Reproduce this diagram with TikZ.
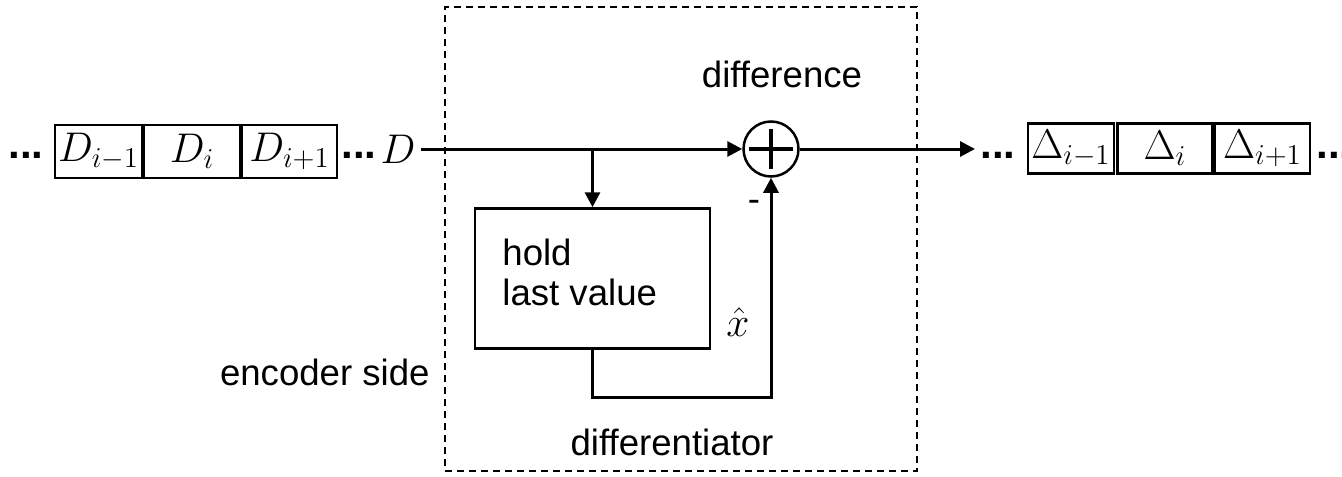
\documentclass[tikz,border=0pt]{standalone}
\usepackage[no-math]{fontspec}
\setmainfont{Liberation Sans}
\usetikzlibrary{arrows.meta}
% larger sub/superscripts for the sequence labels
\DeclareMathSizes{20.5}{20.5}{15.5}{12}

\tikzset{
  txt/.style={inner sep=0pt, font=\fontsize{18.3}{20}\selectfont},
  mth/.style={inner sep=0pt, font=\fontsize{20.5}{24}\selectfont},
  dots/.style={inner sep=0pt, anchor=base, font=\fontsize{21}{24}\selectfont\bfseries},
  cell/.style={draw, line width=1.25pt, inner sep=0pt, minimum height=26.5pt,
    font=\fontsize{20.5}{24}\selectfont},
  wire/.style={line width=1.5pt},
  arr/.style={wire, -{Triangle[length=7.5pt,width=7.5pt]}},
  sumnode/.style={circle, draw, line width=1.25pt, minimum size=27.5pt, inner sep=0pt,
    path picture={
      \draw[line width=2pt]
        ([xshift=-11pt]path picture bounding box.center) -- ([xshift=11pt]path picture bounding box.center)
        ([yshift=-10pt]path picture bounding box.center) -- ([yshift=10pt]path picture bounding box.center);
    }},
  blockbox/.style={draw, line width=1.25pt, inner sep=0pt},
  frame/.style={draw, line width=1pt, dash pattern=on 3.5pt off 2.5pt, inner sep=0pt},
}

\begin{document}
\begin{tikzpicture}[x=0.5pt,y=-0.5pt]
  \useasboundingbox (0,0) rectangle (1342,476);

  % encoder frame
  \node[frame, minimum width=236pt, minimum height=232pt] (enc) at (681,239) {};

  % input sequence
  \node[dots] (dl1) at (26,158) {...};
  \node[cell, minimum width=43.5pt] (d1) at (98.5,151.5) {$D_{i-1}$};
  \node[cell, minimum width=48pt]   (d2) at (192,151.5)  {$D_{i}$};
  \node[cell, minimum width=47.5pt] (d3) at (289.5,151.5){$D_{i+1}$};
  \node[dots] (dl2) at (359,158) {...};
  \node[mth] (D) at (398,149) {$D$};

  % summing junction
  \node[sumnode] (sum) at (771,149) {};
  \node[txt, anchor=base] (difflab) at (782,88) {difference};
  \node[txt] (minus) at (754,206) {-};

  % hold block
  \node[blockbox, minimum width=117.5pt, minimum height=70pt] (hold) at (592.5,278.5) {};
  \node[txt, anchor=base west] (hold1) at (502,265) {hold};
  \node[txt, anchor=base west] (hold2) at (502,305) {last value};
  \node[mth] (xhat) at (738,322) {$\hat{x}$};

  % junction points
  \coordinate (br) at (592.5,149);
  \coordinate (fb) at (771,397);
  \coordinate (outend) at (975,149);

  % connectors
  \draw[arr] (D.east) ++(2.5pt,0) -- (sum.west);
  \draw[arr] (br) -- (hold.north);
  \draw[arr] (hold.south) |- (fb) -- (sum.south);
  \draw[arr] (sum.east) -- (outend);

  % output sequence
  \node[dots] (dr1) at (998,158) {...};
  \node[cell, minimum width=43pt, minimum height=25pt]   (e1) at (1071,148.5)  {$\Delta_{i-1}$};
  \node[cell, minimum width=47.5pt, minimum height=25pt] (e2) at (1165,148.5)  {$\Delta_{i}$};
  \node[cell, minimum width=47.5pt, minimum height=25pt] (e3) at (1262.5,148.5){$\Delta_{i+1}$};
  \node[dots, anchor=base west] (dr2) at (1316,158) {...};

  % labels
  \node[txt, anchor=base east] (enclab) at (430,385) {encoder side};
  \node[txt, anchor=base] (difflab2) at (672,455) {differentiator};
\end{tikzpicture}
\end{document}
